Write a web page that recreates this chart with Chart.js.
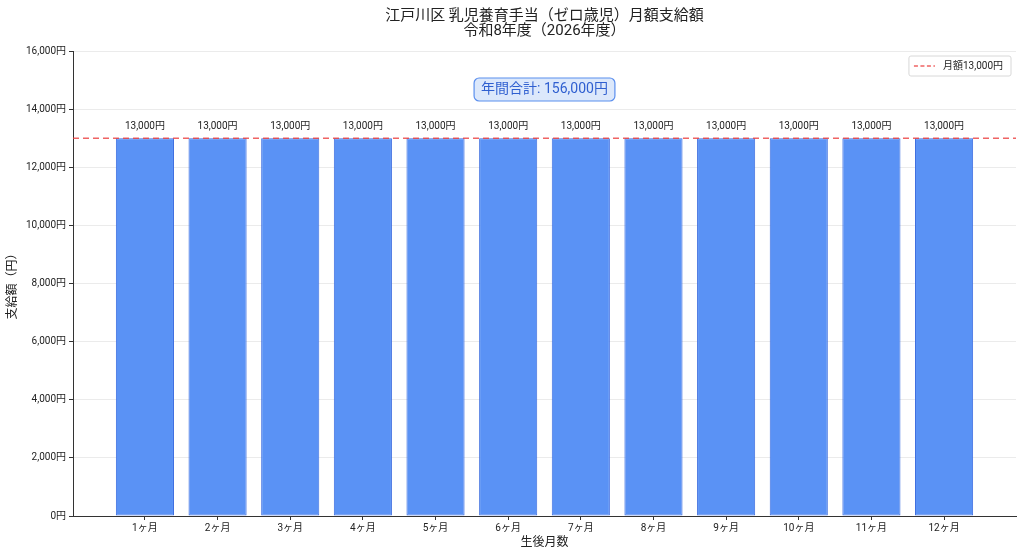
<!DOCTYPE html>
<html><head><meta charset="utf-8">
<script src="https://cdn.jsdelivr.net/npm/chart.js@4.4.1/dist/chart.umd.min.js"></script>
<style>html,body{margin:0;padding:0;background:#fff;}#wrap{width:1024px;height:555px;}</style>
</head><body><div id="wrap"><canvas id="c"></canvas></div>
<script>
const categories = ['1ヶ月','2ヶ月','3ヶ月','4ヶ月','5ヶ月','6ヶ月','7ヶ月','8ヶ月','9ヶ月','10ヶ月','11ヶ月','12ヶ月'];
const amounts = [13000,13000,13000,13000,13000,13000,13000,13000,13000,13000,13000,13000];
const monthlyRate = 13000;
const yTicks = [0,2000,4000,6000,8000,10000,12000,14000,16000];
const titleLines = ['江戸川区 乳児養育手当（ゼロ歳児）月額支給額','令和8年度（2026年度）'];
const annualTotal = amounts.reduce((a,b)=>a+b,0);
const FONT = 'Roboto, "Noto Sans CJK JP", sans-serif';
const fmt = v => v.toLocaleString('en-US') + '円';

const xMin = -0.99, xMax = categories.length - 1 + 0.99;

const overlay = {
  id:'overlay',
  afterDraw(chart){
    const ctx = chart.ctx, ca = chart.chartArea;
    ctx.save();
    ctx.font = '15px ' + FONT; ctx.fillStyle = '#222'; ctx.textAlign='center'; ctx.textBaseline='middle';
    const cx = (ca.left+ca.right)/2;
    ctx.fillText(titleLines[0], cx, 16);
    ctx.fillText(titleLines[1], cx, 31);
    ctx.restore();
  },
  afterDatasetsDraw(chart){
    const ctx = chart.ctx, xs = chart.scales.x, ys = chart.scales.y, ca = chart.chartArea;
    ctx.save();
    ctx.font = '10px ' + FONT; ctx.fillStyle = '#222'; ctx.textAlign='center'; ctx.textBaseline='middle';
    amounts.forEach((v,i)=>{ ctx.fillText(fmt(v), xs.getPixelForValue(i), ys.getPixelForValue(v) - 12); });
    const txt = '年間合計: ' + fmt(annualTotal);
    ctx.font = '14px ' + FONT;
    const w = ctx.measureText(txt).width + 14, h = 23;
    const cx = (ca.left+ca.right)/2, cy = 89.5;
    ctx.beginPath(); ctx.roundRect(cx-w/2, cy-h/2, w, h, 5);
    ctx.fillStyle = '#DCE8FB'; ctx.fill(); ctx.lineWidth=1.2; ctx.strokeStyle='#5B8FEE'; ctx.stroke();
    ctx.fillStyle = '#2F5FD0'; ctx.textBaseline='middle'; ctx.fillText(txt, cx, cy);
    const lt = '月額' + fmt(monthlyRate);
    ctx.font = '10px ' + FONT;
    const lw = ctx.measureText(lt).width + 42, lh = 20;
    const lx = ca.right - 5 - lw, ly = 56;
    ctx.beginPath(); ctx.roundRect(lx, ly, lw, lh, 2); ctx.fillStyle='rgba(255,255,255,0.9)'; ctx.fill();
    ctx.strokeStyle='#d8d8d8'; ctx.lineWidth=1; ctx.stroke();
    ctx.beginPath(); ctx.setLineDash([4,2.5]); ctx.strokeStyle='rgba(235,60,60,0.8)'; ctx.lineWidth=1.5;
    ctx.moveTo(lx+5, ly+lh/2); ctx.lineTo(lx+26, ly+lh/2); ctx.stroke(); ctx.setLineDash([]);
    ctx.fillStyle='#222'; ctx.textAlign='left'; ctx.textBaseline='middle'; ctx.fillText(lt, lx+34, ly+lh/2);
    ctx.restore();
  }
};

new Chart(document.getElementById('c'), {
  data: {
    datasets: [
      { type:'line', label:'月額' + fmt(monthlyRate), data:[{x:xMin,y:monthlyRate},{x:xMax,y:monthlyRate}],
        borderColor:'rgba(235,60,60,0.8)', borderWidth:1.5, borderDash:[6,4], pointRadius:0, order:0 },
      { type:'bar', label:'支給額', data: amounts.map((v,i)=>({x:i,y:v})),
        backgroundColor:'#5A92F5', borderColor:'#3D6EE0', borderWidth:1, borderSkipped:false,
        barPercentage:0.8, categoryPercentage:1.0, order:1 }
    ]
  },
  options: {
    responsive:true, maintainAspectRatio:false, animation:false,
    layout:{ padding:{ left:0, right:8, top:51, bottom:0 } },
    plugins:{ legend:{ display:false }, tooltip:{ enabled:false }, title:{ display:false } },
    scales:{
      x:{ type:'linear', min:xMin, max:xMax, offset:false,
        afterBuildTicks(s){ s.ticks = categories.map((c,i)=>({value:i})); },
        afterFit(s){ s.height = 39; },
        ticks:{ callback:(v)=>categories[v] ?? '', font:{ family:FONT, size:10 }, color:'#222', autoSkip:false, maxRotation:0, padding:2 },
        grid:{ offset:false, drawOnChartArea:false, drawTicks:true, tickLength:4, tickColor:'#333' },
        border:{ color:'#333', width:1 },
        title:{ display:true, text:'生後月数', font:{ family:FONT, size:12 }, color:'#222', padding:{ top:0, bottom:5 } }
      },
      y:{ min:0, max:16000,
        afterBuildTicks(s){ s.ticks = yTicks.map(v=>({value:v})); },
        afterFit(s){ s.width = 73; },
        ticks:{ callback:(v)=>fmt(v), font:{ family:FONT, size:10 }, color:'#222', padding:3 },
        grid:{ color:'#EBEBEB', lineWidth:1, drawTicks:true, tickLength:4, tickColor:'#333' },
        border:{ color:'#333', width:1 },
        title:{ display:true, text:'支給額（円）', font:{ family:FONT, size:12 }, color:'#222', padding:{ top:6, bottom:0 } }
      }
    }
  },
  plugins:[overlay]
});
</script></body></html>
